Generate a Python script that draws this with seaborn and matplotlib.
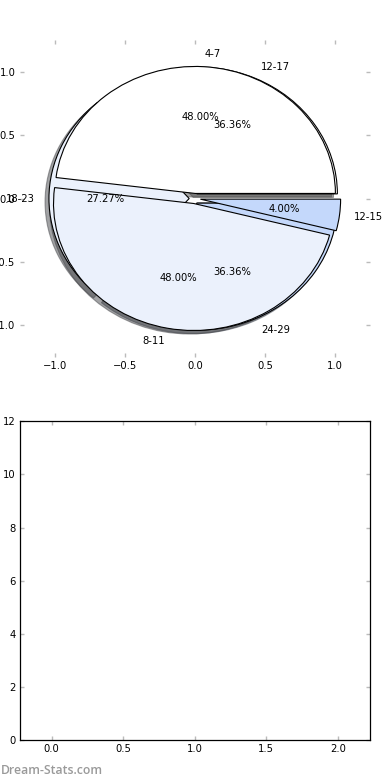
import matplotlib
matplotlib.use("Agg")
import matplotlib.pyplot as plt
import seaborn as sns

# first pie (drawn on top)
ages_a = ['4-7', '8-11', '12-15']
share_a = [48, 48, 4]
# second pie (drawn underneath)
ages_b = ['12-17', '18-23', '24-29']
share_b = [4, 3, 4]

pie_colors = ['#ffffff', '#ebf1fc', '#c4d8fb']
explode = [0.04, 0.04, 0.04]
pie_ticks = [-1.0, -0.5, 0.0, 0.5, 1.0]

sns.set_style("white")
plt.rcParams['font.family'] = ['DejaVu Sans']
plt.rcParams['font.size'] = 7.2
plt.rcParams['text.color'] = 'black'

fig = plt.figure(figsize=(3.9, 7.8), dpi=100)
ax1 = fig.add_axes([0.05, 0.542, 0.899, 0.407])
ax2 = fig.add_axes([0.05, 0.051, 0.899, 0.409])

wprops = dict(edgecolor='black', linewidth=0.8)
ax1.pie(share_b, labels=ages_b, colors=pie_colors, explode=explode,
        autopct='%.2f%%', shadow=True, wedgeprops=wprops,
        textprops=dict(fontsize=7.2, color='black'))
ax1.pie(share_a, labels=ages_a, colors=pie_colors, explode=explode,
        autopct='%.2f%%', shadow=True, wedgeprops=wprops,
        textprops=dict(fontsize=7.2, color='black'))
ax1.set_aspect('auto')
ax1.set_frame_on(False)
ax1.set_xlim(-1.25, 1.25)
ax1.set_ylim(-1.25, 1.25)
ax1.set_xticks(pie_ticks)
ax1.set_yticks(pie_ticks)
ax1.set_xticklabels(['\u22121.0', '\u22120.5', '0.0', '0.5', '1.0'])
ax1.set_yticklabels(['\u22121.0', '\u22120.5', '0.0', '0.5', '1.0'])

ax2.set_xlim(-0.225, 2.225)
ax2.set_ylim(0, 12)
ax2.set_xticks([0.0, 0.5, 1.0, 1.5, 2.0])
ax2.set_yticks([0, 2, 4, 6, 8, 10, 12])
for s in ax2.spines.values():
    s.set_edgecolor('black')
    s.set_linewidth(0.9)
    s.set_visible(True)

for ax in (ax1, ax2):
    ax.tick_params(direction='in', length=3, width=1, color='#bbbbbb',
                   top=True, right=True, bottom=True, left=True,
                   labelsize=7.2, labelcolor='black', pad=3)

fig.text(0.002, 0.0128, 'Dream-Stats.com', color='#9a9a9a', fontsize=8.8,
         fontweight='semibold', family=['Open Sans', 'DejaVu Sans'],
         va='center', ha='left')

fig.savefig('out.png', dpi=100)
